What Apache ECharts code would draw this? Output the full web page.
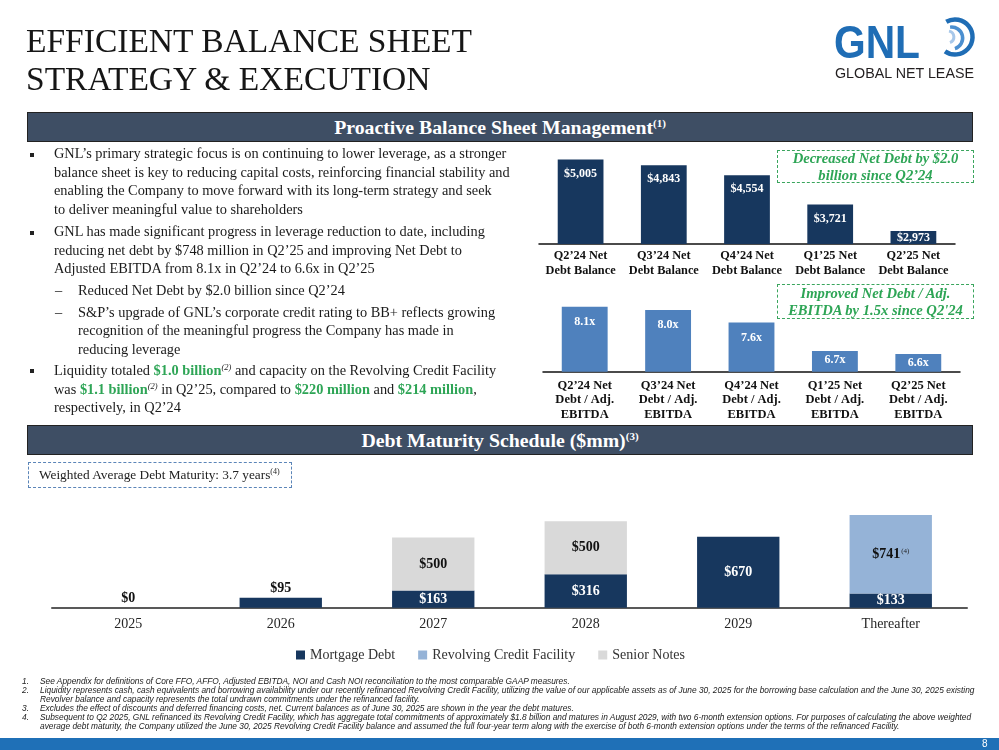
<!DOCTYPE html>
<html>
<head>
<meta charset="utf-8">
<script src="https://cdn.jsdelivr.net/npm/echarts@6/dist/echarts.min.js"></script>
<style>
html,body{margin:0;padding:0;background:#fff;}
#page{position:relative;width:999px;height:750px;overflow:hidden;background:#fff;font-family:'Liberation Serif','Times New Roman',serif;color:#1a1a1a;}
#chart{position:absolute;left:0;top:0;width:999px;height:750px;}
.t{position:absolute;white-space:nowrap;}
.title{left:26px;font-size:33.5px;line-height:1;color:#161616;}
.hdr{position:absolute;left:27px;width:946px;height:30px;background:#3e4e64;border:1px solid #222;box-sizing:border-box;color:#fff;font-weight:bold;font-size:19.8px;line-height:28px;text-align:center;white-space:nowrap;}
.hdr sup{font-size:11px;line-height:0;vertical-align:7px;}
.ln{position:absolute;white-space:nowrap;font-size:14.35px;line-height:19px;color:#1a1a1a;}
.ln sup{font-size:8.5px;line-height:0;vertical-align:5px;font-style:italic;}
.bul{position:absolute;left:30px;width:4px;height:4px;background:#222;}
.g{color:#2ea556;font-weight:bold;}
.gbox{position:absolute;border:1.5px dashed #3aa55d;box-sizing:border-box;color:#2ea556;font-weight:bold;font-style:italic;font-size:14.6px;line-height:16.5px;text-align:center;display:flex;align-items:center;justify-content:center;white-space:nowrap;}
.bbox{position:absolute;left:28px;top:462px;width:264px;height:26px;border:1.5px dashed #5b85b8;box-sizing:border-box;font-size:13.3px;line-height:23px;padding-left:10px;color:#222;white-space:nowrap;}
.bbox sup{font-size:8px;line-height:0;vertical-align:5px;}
.fn{position:absolute;font-family:'Liberation Sans',Arial,sans-serif;font-style:italic;font-size:8.35px;line-height:9px;white-space:nowrap;color:#1a1a1a;}
#footer{position:absolute;left:0;top:738px;width:999px;height:12px;background:#1f70b7;}
#pnum{position:absolute;left:982px;top:738px;font-family:'Liberation Sans',Arial,sans-serif;font-size:10px;line-height:12px;color:#fff;}
</style>
</head>
<body>
<div id="page">
  <div id="chart"></div>

  <div class="t title" style="top:23.6px">EFFICIENT BALANCE SHEET</div>
  <div class="t title" style="top:61.9px">STRATEGY &amp; EXECUTION</div>

  <svg class="t" style="left:0;top:0" width="999" height="100">
    <text x="834" y="58" font-family="Liberation Sans, Arial, sans-serif" font-weight="bold" font-size="47" fill="#1f6db5" textLength="86" lengthAdjust="spacingAndGlyphs">GNL</text>
    <path d="M 946.3 21.8 A 17.5 17.5 0 1 1 945 51.3" stroke="#1f6db5" stroke-width="4.5" fill="none"/>
    <path d="M 950.1 27.2 A 11 11 0 0 1 954.9 48.6" stroke="#4b8fd0" stroke-width="3.5" fill="none"/>
    <path d="M 949 31.1 A 6 6 0 0 1 950 42.6" stroke="#a8c8ea" stroke-width="3" fill="none"/>
    <text x="835" y="78" font-family="Liberation Sans, Arial, sans-serif" font-size="15.5" fill="#231f20" textLength="139" lengthAdjust="spacingAndGlyphs">GLOBAL NET LEASE</text>
  </svg>

  <div class="hdr" style="top:112px">Proactive Balance Sheet Management<sup>(1)</sup></div>
  <div class="hdr" style="top:425px">Debt Maturity Schedule ($mm)<sup>(3)</sup></div>

  <div id="bullets"></div>

  <div class="gbox" style="left:777px;top:150px;width:197px;height:33px;">Decreased Net Debt by $2.0<br>billion since Q2’24</div>
  <div class="gbox" style="left:777px;top:284px;width:197px;height:35px;">Improved Net Debt / Adj.<br>EBITDA by 1.5x since Q2'24</div>

  <div class="bbox">Weighted Average Debt Maturity: 3.7 years<sup>(4)</sup></div>

  <div id="notes"></div>
  <div id="footer"></div>
  <div id="pnum">8</div>
</div>

<script>
// ---------- chart data ----------
const netDebtCats = ['Q2’24 Net\nDebt Balance', 'Q3’24 Net\nDebt Balance', 'Q4’24 Net\nDebt Balance', 'Q1’25 Net\nDebt Balance', 'Q2’25 Net\nDebt Balance'];
const netDebt = [5005, 4843, 4554, 3721, 2973];

const leverageCats = ['Q2’24 Net\nDebt / Adj.\nEBITDA', 'Q3’24 Net\nDebt / Adj.\nEBITDA', 'Q4’24 Net\nDebt / Adj.\nEBITDA', 'Q1’25 Net\nDebt / Adj.\nEBITDA', 'Q2’25 Net\nDebt / Adj.\nEBITDA'];
const leverage = [8.1, 8.0, 7.6, 6.7, 6.6];

const years = ['2025', '2026', '2027', '2028', '2029', 'Thereafter'];
const mortgageDebt = [0, 95, 163, 316, 670, 133];
const revolvingCredit = [null, null, null, null, null, 741];
const seniorNotes = [null, null, 500, 500, null, null];

const legendNames = ['Mortgage Debt', 'Revolving Credit Facility', 'Senior Notes'];

// ---------- slide text ----------
const bulletLines = [
  [158.7, 'b', 'GNL’s primary strategic focus is on continuing to lower leverage, as a stronger'],
  [177.0, '', 'balance sheet is key to reducing capital costs, reinforcing financial stability and'],
  [195.3, '', 'enabling the Company to move forward with its long-term strategy and seek'],
  [214.0, '', 'to deliver meaningful value to shareholders'],
  [236.7, 'b', 'GNL has made significant progress in leverage reduction to date, including'],
  [255.3, '', 'reducing net debt by $748 million in Q2’25 and improving Net Debt to'],
  [273.7, '', 'Adjusted EBITDA from 8.1x in Q2’24 to 6.6x in Q2’25'],
  [295.3, 'd', 'Reduced Net Debt by $2.0 billion since Q2’24'],
  [317.3, 'd', 'S&amp;P’s upgrade of GNL’s corporate credit rating to BB+ reflects growing'],
  [335.3, 's', 'recognition of the meaningful progress the Company has made in'],
  [354.0, 's', 'reducing leverage'],
  [375.3, 'b', 'Liquidity totaled <span class="g">$1.0 billion</span><sup>(2)</sup> and capacity on the Revolving Credit Facility'],
  [394.0, '', 'was <span class="g">$1.1 billion</span><sup>(2)</sup> in Q2’25, compared to <span class="g">$220 million</span> and <span class="g">$214 million</span>,'],
  [412.3, '', 'respectively, in Q2’24']
];
const footNotes = [
  [681.7, '1.', 'See Appendix for definitions of Core FFO, AFFO, Adjusted EBITDA, NOI and Cash NOI reconciliation to the most comparable GAAP measures.'],
  [690.7, '2.', 'Liquidity represents cash, cash equivalents and borrowing availability under our recently refinanced Revolving Credit Facility, utilizing the value of our applicable assets as of June 30, 2025 for the borrowing base calculation and the June 30, 2025 existing'],
  [699.7, '', 'Revolver balance and capacity represents the total undrawn commitments under the refinanced facility.'],
  [708.7, '3.', 'Excludes the effect of discounts and deferred financing costs, net. Current balances as of June 30, 2025 are shown in the year the debt matures.'],
  [717.7, '4.', 'Subsequent to Q2 2025, GNL refinanced its Revolving Credit Facility, which has aggregate total commitments of approximately $1.8 billion and matures in August 2029, with two 6-month extension options. For purposes of calculating the above weighted'],
  [726.7, '', 'average debt maturity, the Company utilized the June 30, 2025 Revolving Credit Facility balance and assumed the full four-year term along with the exercise of both 6-month extension options under the terms of the refinanced Facility.']
];

// build bullet text
(function () {
  const box = document.getElementById('bullets');
  let html = '';
  bulletLines.forEach(([base, kind, txt]) => {
    const left = (kind === 'd' || kind === 's') ? 78 : 54;
    html += '<div class="ln" style="left:' + left + 'px;top:' + (base - 14.4) + 'px">' + txt + '</div>';
    if (kind === 'b') html += '<div class="bul" style="top:' + (base - 6) + 'px"></div>';
    if (kind === 'd') html += '<div class="ln" style="left:55px;top:' + (base - 14.4) + 'px">–</div>';
  });
  box.innerHTML = html;
  const nb = document.getElementById('notes');
  let nh = '';
  footNotes.forEach(([c, num, txt]) => {
    if (num) nh += '<div class="fn" style="left:22px;top:' + (c - 4.5) + 'px">' + num + '</div>';
    nh += '<div class="fn" style="left:40px;top:' + (c - 4.5) + 'px">' + txt + '</div>';
  });
  nb.innerHTML = nh;
})();

// ---------- chart ----------
const serif = "'Liberation Serif','Times New Roman',serif";
const ND_MIN = 2600, ND_MAX = 5100;
const LV_MIN = 6.04, LV_MAX = 8.3;
const MT_MAX = 900;

function money(v) { return '$' + String(v).replace(/\B(?=(\d{3})+(?!\d))/g, ','); }

const chart = echarts.init(document.getElementById('chart'), null, { renderer: 'canvas' });
const option = {
  animation: false,
  textStyle: { fontFamily: serif },
  grid: [
    { left: 539, top: 156.1, width: 416, height: 87.9 },
    { left: 543, top: 300.5, width: 417, height: 71.2 },
    { left: 52, top: 512.3, width: 915, height: 95.4 }
  ],
  xAxis: [
    { gridIndex: 0, type: 'category', data: netDebtCats, axisTick: { show: false },
      axisLine: { lineStyle: { color: '#111', width: 1.5 } },
      axisLabel: { interval: 0, margin: 5, fontSize: 12.3, fontWeight: 'bold', color: '#111', lineHeight: 14.5, fontFamily: serif } },
    { gridIndex: 1, type: 'category', data: leverageCats, axisTick: { show: false },
      axisLine: { lineStyle: { color: '#111', width: 1.5 } },
      axisLabel: { interval: 0, margin: 6.5, fontSize: 12.5, fontWeight: 'bold', color: '#111', lineHeight: 14.7, fontFamily: serif } },
    { gridIndex: 2, type: 'category', data: years, axisTick: { show: false },
      axisLine: { lineStyle: { color: '#595959', width: 2 } },
      axisLabel: { interval: 0, margin: 10, fontSize: 14, color: '#262626', fontFamily: serif } }
  ],
  yAxis: [
    { gridIndex: 0, type: 'value', min: ND_MIN, max: ND_MAX, show: false },
    { gridIndex: 1, type: 'value', min: LV_MIN, max: LV_MAX, show: false },
    { gridIndex: 2, type: 'value', min: 0, max: MT_MAX, show: false }
  ],
  legend: {
    data: legendNames, left: 291, top: 643, icon: 'rect', itemWidth: 9, itemHeight: 9, itemGap: 23,
    textStyle: { fontSize: 14, color: '#333', fontFamily: serif }
  },
  series: [
    { name: 'Net Debt Balance', type: 'bar', xAxisIndex: 0, yAxisIndex: 0, barWidth: '55%', clip: true,
      itemStyle: { color: '#17375e' },
      label: { show: true, position: 'insideTop', color: '#fff', fontWeight: 'bold', fontSize: 12, fontFamily: serif,
        formatter: p => money(p.value) },
      data: netDebt.map(v => ({ value: v, label: { distance: (v - ND_MIN) < 600 ? 1.2 : 8 } })) },
    { name: 'Net Debt / Adj. EBITDA', type: 'bar', xAxisIndex: 1, yAxisIndex: 1, barWidth: '55%', clip: true,
      itemStyle: { color: '#4f81bd' },
      label: { show: true, position: 'insideTop', color: '#fff', fontWeight: 'bold', fontSize: 12, fontFamily: serif,
        formatter: p => p.value.toFixed(1) + 'x' },
      data: leverage.map(v => ({ value: v, label: { distance: (v - LV_MIN) < 1 ? 3 : 9 } })) },
    { name: 'Mortgage Debt', type: 'bar', stack: 'debt', xAxisIndex: 2, yAxisIndex: 2, barWidth: '54%',
      itemStyle: { color: '#17375e' },
      label: { show: true, position: 'inside', color: '#fff', fontWeight: 'bold', fontSize: 14, fontFamily: serif,
        formatter: p => money(p.value) },
      data: mortgageDebt.map(v => v < 120 ? { value: v, label: { position: 'top', color: '#111', distance: 2 } } : v) },
    { name: 'Revolving Credit Facility', type: 'bar', stack: 'debt', xAxisIndex: 2, yAxisIndex: 2, barWidth: '54%',
      itemStyle: { color: '#95b3d7' },
      label: { show: true, position: 'inside', formatter: p => '{v|' + money(p.value) + '}{s|(4)}',
        rich: { v: { fontSize: 14, fontWeight: 'bold', color: '#111', fontFamily: serif },
                s: { fontSize: 7, color: '#222', fontFamily: serif, verticalAlign: 'top', padding: [0, 0, 6, 1] } } },
      data: revolvingCredit },
    { name: 'Senior Notes', type: 'bar', stack: 'debt', xAxisIndex: 2, yAxisIndex: 2, barWidth: '54%',
      itemStyle: { color: '#d9d9d9' },
      label: { show: true, position: 'inside', color: '#111', fontWeight: 'bold', fontSize: 14, fontFamily: serif,
        formatter: p => money(p.value) },
      data: seniorNotes }
  ]
};
chart.setOption(option);
</script>
</body>
</html>
